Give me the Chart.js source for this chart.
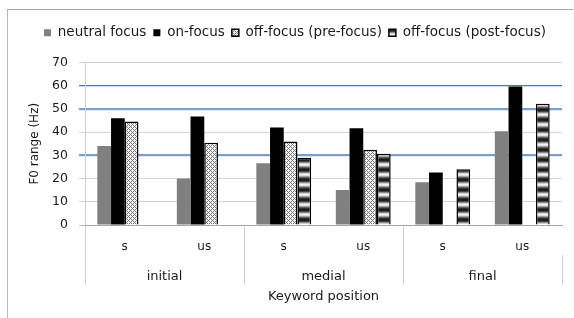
<!DOCTYPE html>
<html>
<head>
<meta charset="utf-8">
<script src="https://cdn.jsdelivr.net/npm/chart.js@4"></script>
<style>
body{margin:0;background:#fff}
#wrap{position:relative;width:574px;height:318px;overflow:hidden}
#frame{position:absolute;left:7px;top:9px;right:1px;bottom:-2px;border-left:1px solid #b8b8b8;border-top:1px solid #a6a6a6}
canvas{position:absolute;left:0;top:0}
</style>
</head>
<body>
<div id="wrap"><div id="frame"></div><canvas id="myChart" width="574" height="318"></canvas></div>
<script>
const groups = ['initial', 'medial', 'final']
const positions = ['s', 'us', 's', 'us', 's', 'us']
const neutralFocus = [34, 20, 26.6, 15.1, 18.4, 40.4]
const onFocus = [46, 46.7, 42, 41.7, 22.6, 59.7]
const preFocus = [44.6, 35.4, 36, 32.4, null, null]
const postFocus = [null, null, 29, 30.7, 24, 52.2]
const yTicks = [0, 10, 20, 30, 40, 50, 60, 70]

// fill patterns for the two off-focus series
function dotPattern() {
    const c = document.createElement('canvas')
    c.width = 4; c.height = 4
    const g = c.getContext('2d')
    g.fillStyle = '#f2f2f2'
    g.fillRect(0, 0, 4, 4)
    g.fillStyle = '#7a7a7a'
    for (let x = 0; x < 4; x++) {
        for (let y = 0; y < 4; y++) {
            if ((x + y) % 4 === 0 || (x - y + 4) % 4 === 0) g.fillRect(x, y, 1, 1)
        }
    }
    return g.createPattern(c, 'repeat')
}
function stripePattern() {
    const rows = ['#1e1e1e', '#444444', '#8c8c8c', '#d0d0d0', '#f4f4f4', '#dedede', '#a4a4a4', '#606060', '#333333', '#1a1a1a']
    const c = document.createElement('canvas')
    c.width = 4; c.height = rows.length
    const g = c.getContext('2d')
    rows.forEach((col, i) => { g.fillStyle = col; g.fillRect(0, i, 4, 1) })
    return g.createPattern(c, 'repeat')
}

Chart.defaults.font.family = "'DejaVu Sans', sans-serif"
Chart.defaults.font.size = 12
Chart.defaults.color = '#1a1a1a'

const ctx = document.getElementById('myChart')

const data = {
    labels: positions,
    datasets: [
        { label: 'neutral focus', data: neutralFocus, backgroundColor: '#808080', borderWidth: 0 },
        { label: 'on-focus', data: onFocus, backgroundColor: '#000000', borderWidth: 0 },
        { label: 'off-focus (pre-focus)', data: preFocus, backgroundColor: dotPattern(), borderColor: '#000', borderWidth: 1.5 },
        { label: 'off-focus (post-focus)', data: postFocus, backgroundColor: stripePattern(), borderColor: '#000', borderWidth: 1.5 }
    ]
}

function lineCol(v) {
    if (v === 0) return '#bfbfbf'
    if (v === 30 || v === 50) return '#7b9fca'
    if (v === 60) return '#4f7aab'
    return '#c9d7e7'
}
function lineW(v) {
    if (v === 30 || v === 50) return 2.2
    if (v === 60) return 1.3
    return 1
}

// more room under the legend
const legendGap = {
    id: 'legendGap',
    beforeInit(chart) {
        const fit = chart.legend.fit
        chart.legend.fit = function () {
            fit.bind(chart.legend)()
            this.height += 13
        }
    }
}

const chart = new Chart(ctx, {
    type: 'bar',
    data: data,
    plugins: [legendGap],
    options: {
        responsive: false,
        animation: false,
        categoryPercentage: 0.69,
        barPercentage: 1,
        layout: { padding: { left: 28, top: 19, right: 12, bottom: 14 } },
        plugins: {
            legend: {
                position: 'top',
                labels: { boxWidth: 7, boxHeight: 7, padding: 7, font: { size: 13.5 } }
            },
            tooltip: { enabled: false }
        },
        scales: {
            y: {
                min: 0, max: 70,
                afterBuildTicks: s => { s.ticks = yTicks.map(v => ({ value: v })) },
                grid: {
                    color: c => lineCol(c.tick ? c.tick.value : -1),
                    lineWidth: c => lineW(c.tick ? c.tick.value : -1),
                    tickLength: 6
                },
                border: { color: '#d0d0d0' },
                ticks: { padding: 11, font: { size: 12.5 } },
                title: { display: true, text: 'F0 range (Hz)', padding: { top: 0, bottom: 0 } },
                afterFit: s => { s.width = 57 }
            },
            x: {
                offset: true,
                grid: {
                    offset: true,
                    drawOnChartArea: false,
                    tickLength: 30,
                    color: c => c.index % 2 === 0 ? '#d0d0d0' : 'rgba(0,0,0,0)'
                },
                border: { color: '#a6a6a6' },
                ticks: { padding: -15, maxRotation: 0, autoSkip: false },
                afterFit: s => { s.height = 30 }
            },
            x2: {
                type: 'category',
                labels: groups,
                position: 'bottom',
                weight: 1,
                offset: true,
                grid: { offset: true, drawOnChartArea: false, tickLength: 30, color: '#d0d0d0' },
                border: { display: false },
                ticks: { padding: -16, font: { size: 13 }, maxRotation: 0 },
                title: { display: true, text: 'Keyword position', font: { size: 13 }, padding: 0 },
                afterFit: s => { s.height = 49 }
            }
        }
    }
})
</script>
</body>
</html>
